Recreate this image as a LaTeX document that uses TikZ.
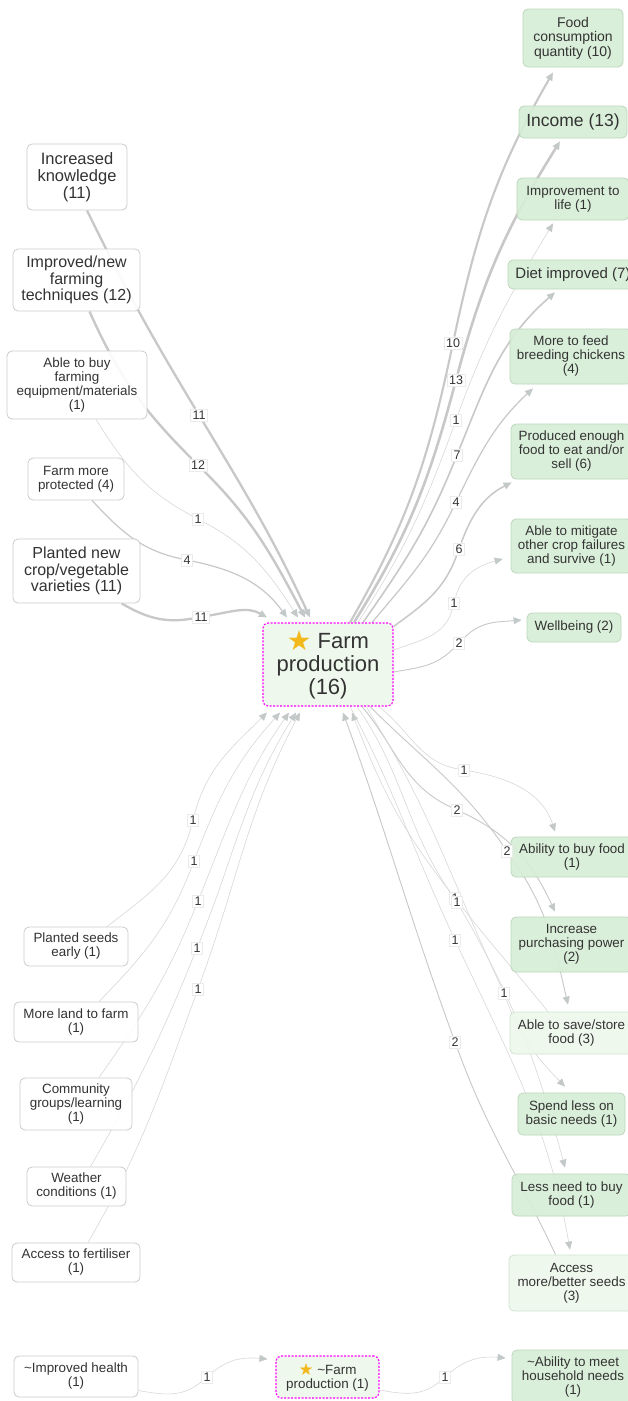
\documentclass[tikz,border=0pt]{standalone}
\usepackage{fontspec}
\setmainfont{Liberation Sans}
\newfontfamily\dejavu{DejaVu Sans}
\usetikzlibrary{arrows.meta}
\pgfdeclarelayer{edgelayer}
\pgfsetlayers{edgelayer,main}
\definecolor{txt}{HTML}{333333}
\definecolor{lbord}{HTML}{CCCCCC}
\definecolor{gfill}{HTML}{D7EED6}
\definecolor{gbord}{HTML}{BCD6BC}
\definecolor{pfill}{HTML}{EEF8EC}
\definecolor{pbord}{HTML}{D2E3D2}
\definecolor{fpfill}{HTML}{EDF8EA}
\definecolor{magb}{HTML}{FF00FF}
\definecolor{edgec}{HTML}{C8C8C8}
\definecolor{thinc}{HTML}{D8D8D8}
\definecolor{arrc}{HTML}{C3C8C8}
\definecolor{labbord}{HTML}{EBEBEB}
\definecolor{starc}{HTML}{F2B81C}
\newcommand\myfs[2]{\fontsize{#1}{#2}\selectfont}
\newcommand\mystar{{\dejavu\textcolor{starc}{\raisebox{-0.08em}{\scalebox{1.25}{★}}}}}
\begin{document}
\begin{tikzpicture}[x=1pt,y=1pt,
 base/.style={rounded corners=5pt, line width=0.8pt, align=center, inner sep=0pt, text=txt, font=\myfs{13.4}{14}, fill opacity=0.9, text opacity=1},
 lbox/.style={base, draw=lbord, fill=white},
 gbox/.style={base, draw=gbord, fill=gfill},
 pbox/.style={base, draw=pbord, fill=pfill},
 fpbox/.style={base, draw=magb, fill=fpfill, dash pattern=on 2pt off 1.5pt, line width=1.1pt},
 sz/.style 2 args={minimum width=#1pt, minimum height=#2pt},
 lab/.style={fill=white, draw=labbord, line width=0.4pt, inner xsep=2.2pt, inner ysep=1.8pt, text=txt, font=\myfs{12.5}{13}},
 ew/.style={draw=edgec, line width=#1},
 wt/.style={draw=thinc, line width=0.6pt},
 arr/.style={-{Triangle[length=8pt,width=7pt,color=arrc]}},
]
\begin{pgfonlayer}{edgelayer}
\fill[white] (0,0) rectangle (627,-1401);
\end{pgfonlayer}
\path[use as bounding box] (0,0) rectangle (627,-1401);

% ---------- left nodes ----------
\node[lbox, sz={100}{66}, font=\myfs{16.5}{16.8}] (ik) at (77,-177) {Increased\\knowledge\\(11)};
\node[lbox, sz={127}{62}, font=\myfs{16}{16.8}] (it) at (76.5,-280) {Improved/new\\farming\\techniques (12)};
\node[lbox, sz={140}{68}] (ab) at (77,-385) {Able to buy\\farming\\equipment/materials\\(1)};
\node[lbox, sz={96}{42}] (fm) at (76,-479) {Farm more\\protected (4)};
\node[lbox, sz={127}{64}, font=\myfs{16}{16.8}] (pn) at (76.5,-571) {Planted new\\crop/vegetable\\varieties (11)};
\node[lbox, sz={104}{39}] (ps) at (76,-946.5) {Planted seeds\\early (1)};
\node[lbox, sz={124}{40}] (ml) at (76,-1022) {More land to farm\\(1)};
\node[lbox, sz={112}{52}] (cg) at (76,-1104) {Community\\groups/learning\\(1)};
\node[lbox, sz={99}{39}] (wc) at (76.5,-1186.5) {Weather\\conditions (1)};
\node[lbox, sz={128}{39}] (af) at (76,-1262.5) {Access to fertiliser\\(1)};
\node[lbox, sz={124}{41}] (ih) at (76,-1376.5) {\textasciitilde Improved health\\(1)};

% ---------- centre ----------
\node[fpbox, sz={130}{83}, font=\myfs{22}{23}] (fp) at (328,-664.5) {\mystar\ Farm\\production\\(16)};
\node[fpbox, sz={103}{42}] (fp2) at (327.5,-1377) {\mystar\ \textasciitilde Farm\\production (1)};

% ---------- right nodes ----------
\node[gbox, sz={100}{58}, font=\myfs{14}{14.5}] (fc) at (573,-38) {Food\\consumption\\quantity (10)};
\node[gbox, sz={108}{32}, font=\myfs{17.5}{18}] (inc) at (573,-122) {Income (13)};
\node[gbox, sz={112}{42}] (il) at (573,-199) {Improvement to\\life (1)};
\node[gbox, sz={130}{29}, font=\myfs{15}{15.5}] (di) at (573,-274.5) {Diet improved (7)};
\node[gbox, sz={122}{55}] (mf) at (571,-356.5) {More to feed\\breeding chickens\\(4)};
\node[gbox, sz={121}{55}] (pe) at (571.5,-451.5) {Produced enough\\food to eat and/or\\sell (6)};
\node[gbox, sz={121}{54}] (am) at (571.5,-546) {Able to mitigate\\other crop failures\\and survive (1)};
\node[gbox, sz={94}{29}] (wb) at (574,-627.5) {Wellbeing (2)};
\node[gbox, sz={122}{40}] (bf) at (572,-857) {Ability to buy food\\(1)};
\node[gbox, sz={121}{55}] (ip) at (571.5,-944.5) {Increase\\purchasing power\\(2)};
\node[pbox, sz={123}{42}] (ss) at (571.5,-1033) {Able to save/store\\food (3)};
\node[gbox, sz={107}{42}] (sl) at (571.5,-1114) {Spend less on\\basic needs (1)};
\node[gbox, sz={119}{42}] (ln) at (571.5,-1195) {Less need to buy\\food (1)};
\node[pbox, sz={125}{56}] (as) at (571.5,-1283) {Access\\more/better seeds\\(3)};
\node[gbox, sz={122}{54}] (ah) at (573,-1377) {\textasciitilde Ability to meet\\household needs\\(1)};

% ---------- edge labels ----------
\node[lab] (l1) at (199,-415) {11};
\node[lab] (l2) at (198,-465) {12};
\node[lab] (l3) at (198,-519) {1};
\node[lab] (l4) at (187,-560) {4};
\node[lab] (l5) at (201,-617) {11};
\node[lab] (l6) at (453,-343) {10};
\node[lab] (l7) at (456,-380) {13};
\node[lab] (l8) at (456,-420) {1};
\node[lab] (l9) at (457,-455) {7};
\node[lab] (l10) at (456,-502) {4};
\node[lab] (l11) at (459,-549) {6};
\node[lab] (l12) at (454,-603) {1};
\node[lab] (l13) at (459,-643) {2};
\node[lab] (l14) at (464,-770) {1};
\node[lab] (l15) at (457,-810) {2};
\node[lab] (l16) at (507,-851) {2};
\node[lab] (l17) at (455,-898) {1};
\node[lab] (l18) at (457,-902) {1};
\node[lab] (l19) at (455,-940) {1};
\node[lab] (l20) at (504,-993) {1};
\node[lab] (l21) at (455,-1042) {2};
\node[lab] (l22) at (193,-820) {1};
\node[lab] (l23) at (194,-861) {1};
\node[lab] (l24) at (198,-901) {1};
\node[lab] (l25) at (197,-948) {1};
\node[lab] (l26) at (198,-989) {1};
\node[lab] (l27) at (207,-1377) {1};
\node[lab] (l28) at (445,-1377) {1};

\begin{pgfonlayer}{edgelayer}
% ---------- edges: upper left into fp ----------
\draw[ew=2.3pt] ([xshift=10pt]ik.south) to[out=-64,in=121] (l1);
\draw[ew=2.3pt,arr] (l1) to[out=-59,in=115] ([xshift=-18pt,yshift=5pt]fp.north);
\draw[ew=2.4pt] ([xshift=13pt]it.south) to[out=-66,in=135] (l2);
\draw[ew=2.4pt,arr] (l2) to[out=-45,in=118] ([xshift=-23pt,yshift=5pt]fp.north);
\draw[wt] ([xshift=19pt]ab.south) to[out=-58,in=152] (l3);
\draw[wt,arr] (l3) to[out=-28,in=123] ([xshift=-30pt,yshift=5pt]fp.north);
\draw[ew=1.2pt] ([xshift=16pt]fm.south) to[out=-47,in=168] (l4);
\draw[ew=1.2pt,arr] (l4) to[out=-12,in=126] ([xshift=-41pt,yshift=5pt]fp.north);
\draw[ew=2.3pt] ([xshift=45pt]pn.south) to[out=-30,in=190] (l5);
\draw[ew=2.3pt,arr] (l5) to[out=10,in=150] ([xshift=-61pt,yshift=5pt]fp.north);

% ---------- edges: fp to upper right ----------
\draw[ew=2.1pt] ([xshift=22pt]fp.north) to[out=60,in=258] (l6);
\draw[ew=2.1pt,arr] (l6) to[out=78,in=240] ([xshift=-20pt,yshift=-5pt]fc.south);
\draw[ew=2.6pt] ([xshift=26pt]fp.north) to[out=58,in=255] (l7);
\draw[ew=2.6pt,arr] (l7) to[out=75,in=238] ([xshift=-13pt,yshift=-3pt]inc.south);
\draw[wt] ([xshift=30pt]fp.north) to[out=57,in=250] (l8);
\draw[wt,arr] (l8) to[out=70,in=239] ([xshift=-20pt,yshift=-3pt]il.south);
\draw[ew=1.6pt] ([xshift=35pt]fp.north) to[out=55,in=248] (l9);
\draw[ew=1.6pt,arr] (l9) to[out=68,in=221] ([xshift=-18pt,yshift=-3pt]di.south);
\draw[ew=1.2pt] ([xshift=44pt]fp.north) to[out=50,in=244] (l10);
\draw[ew=1.2pt,arr] (l10) to[out=64,in=223] ([xshift=-38pt,yshift=-4pt]mf.south);
\draw[ew=1.5pt] ([yshift=-4pt]fp.north east) to[out=36,in=250] (l11);
\draw[ew=1.5pt,arr] (l11) to[out=70,in=207] ([xshift=1pt,yshift=-3pt]pe.south west);
\draw[wt] ([yshift=14.5pt]fp.east) to[out=20,in=255] (l12);
\draw[wt,arr] (l12) to[out=75,in=195] ([xshift=-8pt,yshift=-13pt]am.west);
\draw[ew=0.9pt] ([yshift=-7.5pt]fp.east) to[out=10,in=225] (l13);
\draw[ew=0.9pt,arr] (l13) to[out=45,in=185] ([xshift=-5pt,yshift=7.5pt]wb.west);

% ---------- edges: lower right ----------
\draw[wt] ([xshift=-15pt]fp.south east) to[out=-37,in=170] (l14);
\draw[wt,arr] (l14) to[out=-10,in=108] ([xshift=-17pt,yshift=5pt]bf.north);
\draw[ew=0.9pt] ([xshift=34pt]fp.south) to[out=-50,in=155] (l15);
\draw[ew=0.9pt,arr] (l15) to[out=-25,in=115] ([xshift=-16.5pt,yshift=5pt]ip.north);
\draw[ew=0.9pt] ([xshift=42pt]fp.south) to[out=-45,in=125] (l16);
\draw[ew=0.9pt,arr] (l16) to[out=-55,in=103] ([xshift=-3.5pt,yshift=7pt]ss.north);
\draw[wt] ([xshift=-23.5pt]ss.north) to[out=129,in=-52] (l17);
\draw[wt,arr] (l17) to[out=128,in=-69] ([xshift=24pt,yshift=-6pt]fp.south);
\draw[wt] ([xshift=29pt]fp.south) to[out=-55,in=125] (l18);
\draw[wt,arr] (l18) to[out=-60,in=105] ([xshift=-6.5pt,yshift=6pt]ln.north);
\draw[wt] ([xshift=22pt]fp.south) to[out=-62,in=115] (l19);
\draw[wt,arr] (l19) to[out=-65,in=100] ([xshift=-1.5pt,yshift=5pt]as.north);
\draw[wt] ([xshift=38pt]fp.south) to[out=-58,in=115] (l20);
\draw[wt,arr] (l20) to[out=-70,in=134] ([xshift=-6.5pt,yshift=6pt]sl.north);
\draw[ew=0.9pt] ([xshift=-16pt]as.north) to[out=115,in=-70] (l21);
\draw[ew=0.9pt,arr] (l21) to[out=110,in=-70] ([xshift=15pt,yshift=-6pt]fp.south);

% ---------- edges: lower left into fp ----------
\draw[wt] ([xshift=31pt]ps.north) to[out=38,in=255] (l22);
\draw[wt,arr] (l22) to[out=75,in=225] ([xshift=-61pt,yshift=-6pt]fp.south);
\draw[wt] ([xshift=23pt]ml.north) to[out=46,in=249] (l23);
\draw[wt,arr] (l23) to[out=69,in=228] ([xshift=-48pt,yshift=-6pt]fp.south);
\draw[wt] ([xshift=23pt]cg.north) to[out=55,in=248] (l24);
\draw[wt,arr] (l24) to[out=68,in=235] ([xshift=-39pt,yshift=-6pt]fp.south);
\draw[wt] ([xshift=14pt]wc.north) to[out=60,in=248] (l25);
\draw[wt,arr] (l25) to[out=68,in=238] ([xshift=-32pt,yshift=-6pt]fp.south);
\draw[wt] ([xshift=12pt]af.north) to[out=60,in=250] (l26);
\draw[wt,arr] (l26) to[out=70,in=242] ([xshift=-28pt,yshift=-6pt]fp.south);

% ---------- bottom row ----------
\draw[wt] ([yshift=-14pt]ih.east) to[out=-10,in=220] (l27);
\draw[wt,arr] (l27) to[out=40,in=175] ([xshift=-8pt,yshift=18pt]fp2.west);
\draw[wt] ([yshift=-13pt]fp2.east) to[out=-10,in=220] (l28);
\draw[wt,arr] (l28) to[out=40,in=175] ([xshift=-6pt,yshift=19pt]ah.west);
\end{pgfonlayer}
\end{tikzpicture}
\end{document}
